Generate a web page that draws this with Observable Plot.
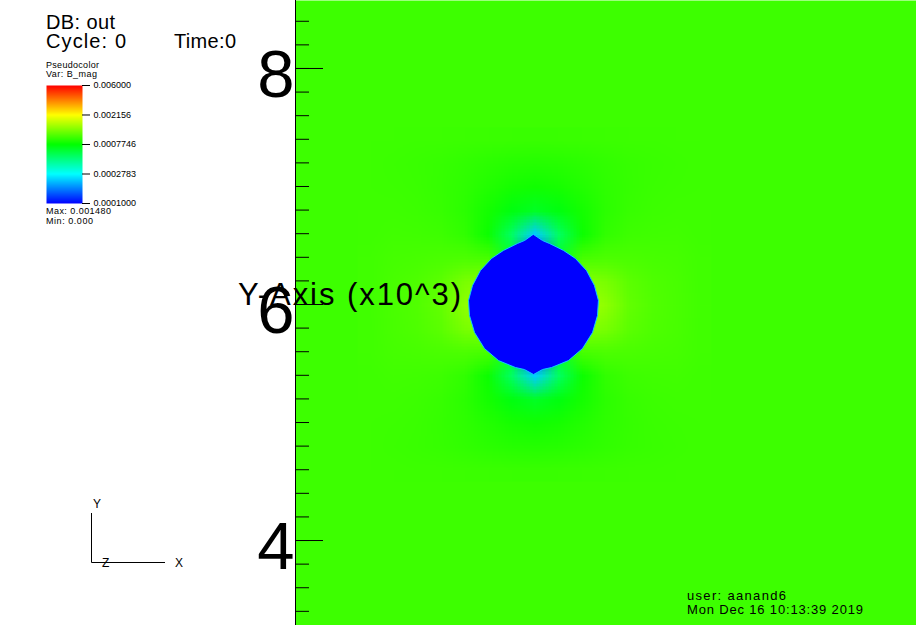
<!DOCTYPE html>
<html><head><meta charset="utf-8">
<script src="https://cdn.jsdelivr.net/npm/d3@7"></script>
<script src="https://cdn.jsdelivr.net/npm/@observablehq/plot@0.6"></script>
<style>
body{margin:0;background:#fff;}
#wrap{position:relative;width:916px;height:625px;overflow:hidden;font-family:"Liberation Sans",Arial,sans-serif;background:#fff;}
#main{position:absolute;left:0;top:0;}
#legend{position:absolute;left:46px;top:77px;}
#overlay{position:absolute;left:0;top:0;pointer-events:none;}
</style></head><body>
<div id="wrap"><div id="main"></div><div id="legend"></div><svg id="overlay" width="916" height="625"></svg></div>
<script>
// ---- data ----
const legendValues = [0.0001, 0.0002783, 0.0007746, 0.002156, 0.006];
const legendLabels = ["0.0001000", "0.0002783", "0.0007746", "0.002156", "0.006000"];
const legendColors = ["#0000ff", "#00ffff", "#00ff00", "#ffff00", "#ff0000"];
const yMajorTicks = [4, 6, 8];
const yMinorTicks = [3.4, 3.6, 3.8, 4.0, 4.2, 4.4, 4.6, 4.8, 5.0, 5.2, 5.4, 5.6, 5.8, 6.0, 6.2, 6.4, 6.6, 6.8, 7.0, 7.2, 7.4, 7.6, 7.8, 8.0, 8.2, 8.4];
const xDomain = [3.975, 9.237];
const yDomain = [3.28, 8.576];
// B_mag in units of 1e-3
const backgroundB = 0.990;
const fieldCenter = [6, 6];
const fieldStep = 0.2;
// one quadrant: rows = distance above centre (0..1.4), cols = distance right of centre (0..1.4)
const fieldQuadrant = [
  [0.990, 1.485, 1.535, 1.371, 1.150, 1.072, 1.038, 1.005],
  [0.050, 1.049, 1.327, 1.253, 1.116, 1.060, 1.033, 1.003],
  [0.050, 0.663, 1.024, 1.052, 1.044, 1.031, 1.020, 1.000],
  [0.228, 0.526, 0.813, 0.944, 0.990, 1.003, 1.004, 0.995],
  [0.668, 0.730, 0.840, 0.922, 0.965, 0.985, 0.993, 0.992],
  [0.826, 0.845, 0.887, 0.930, 0.959, 0.976, 0.985, 0.990],
  [0.895, 0.902, 0.922, 0.942, 0.961, 0.973, 0.982, 0.990],
  [0.970, 0.972, 0.976, 0.980, 0.984, 0.987, 0.989, 0.990]
];
// outline of the excluded (blue) sphere
const diskX = [5.992, 6.068, 6.127, 6.246, 6.347, 6.441, 6.508, 6.542, 6.534, 6.492, 6.407, 6.288, 6.144, 6.068, 5.992, 5.915, 5.839, 5.695, 5.576, 5.492, 5.449, 5.441, 5.475, 5.542, 5.636, 5.737, 5.856, 5.915];
const diskY = [6.593, 6.542, 6.517, 6.458, 6.390, 6.288, 6.161, 6.034, 5.907, 5.763, 5.627, 5.525, 5.466, 5.449, 5.407, 5.449, 5.466, 5.525, 5.627, 5.763, 5.907, 6.034, 6.161, 6.288, 6.390, 6.458, 6.517, 6.542];

// ---- build tables ----
const Q = fieldQuadrant.length;
const N = 2 * Q - 1;
const fieldGrid = [];
for (let i = 0; i < N; i++) for (let j = 0; j < N; j++) fieldGrid.push(fieldQuadrant[Math.abs(Q - 1 - i)][Math.abs(j - (Q - 1))]);
const half = fieldStep * N / 2;
const diskPts = diskX.map((x, i) => ({x, y: diskY[i]}));
const legendRows = legendValues.map((v, i) => ({v, label: legendLabels[i]}));

const W = 916, H = 625, ML = 295;
const pxPerX = (W - ML) / (xDomain[1] - xDomain[0]);
const colorOpts = {type: "log", domain: legendValues, range: legendColors, interpolate: "rgb", clamp: true};
const font = "Liberation Sans, Arial, sans-serif";

const main = Plot.plot({
  width: W, height: H, marginLeft: ML, marginRight: 0, marginTop: 0, marginBottom: 0,
  x: {domain: xDomain, axis: null},
  y: {domain: yDomain, label: null},
  color: colorOpts,
  style: {background: "transparent", fontFamily: font, overflow: "visible", color: "#000"},
  marks: [
    Plot.raster([backgroundB], {width: 1, height: 1, x1: xDomain[0], x2: xDomain[1], y1: yDomain[1], y2: yDomain[0], fill: d => d / 1000}),
    Plot.raster(fieldGrid, {width: N, height: N, x1: fieldCenter[0] - half, x2: fieldCenter[0] + half, y1: fieldCenter[1] + half, y2: fieldCenter[1] - half, fill: d => d / 1000, imageRendering: "auto"}),
    Plot.line(diskPts, {x: "x", y: "y", curve: "linear-closed", fill: "#0000ff", stroke: "#10c8ff", strokeWidth: 1}),
    Plot.ruleX([xDomain[0]], {stroke: "#000", strokeWidth: 1}),
    Plot.ruleY(yMinorTicks, {x1: xDomain[0], x2: xDomain[0] + 14 / pxPerX, stroke: "#000", strokeWidth: 1}),
    Plot.ruleY(yMajorTicks, {x1: xDomain[0], x2: xDomain[0] + 28 / pxPerX, stroke: "#000", strokeWidth: 1}),
    Plot.axisY(yMajorTicks, {tickSize: 0, tickPadding: 1, fontSize: 67, dy: 7, tickFormat: d => String(d), label: null, fill: "#000"})
  ]
});
document.getElementById("main").appendChild(main);

const legend = Plot.plot({
  width: 96, height: 134, marginLeft: 0, marginRight: 60, marginTop: 8, marginBottom: 8,
  x: {domain: [0, 1], axis: null},
  y: {type: "log", domain: [legendValues[0], legendValues[legendValues.length - 1]], axis: null},
  color: colorOpts,
  style: {background: "transparent", fontFamily: font, overflow: "visible", color: "#000"},
  marks: [
    Plot.raster({x1: 0, x2: 1, y1: legendValues[0], y2: legendValues[legendValues.length - 1], fill: (x, y) => y, pixelSize: 1}),
    Plot.ruleY(legendRows, {y: "v", x1: 1, x2: 1 + 8 / 36, stroke: "#000", strokeWidth: 1}),
    Plot.text(legendRows, {y: "v", x: 1, dx: 11, text: "label", textAnchor: "start", fontSize: 9, fill: "#000"})
  ]
});
document.getElementById("legend").appendChild(legend);

// ---- annotations (VisIt window text) ----
const ns = "http://www.w3.org/2000/svg";
const ov = document.getElementById("overlay");
const texts = [
  ["DB: out", 46, 29, 20, 69],
  ["Cycle: 0", 46, 48, 20, 80],
  ["Time:0", 174, 48, 20, 62],
  ["Pseudocolor", 46, 68, 9, 53],
  ["Var: B_mag", 46, 77, 9, 51],
  ["Max: 0.001480", 46, 214, 9, 65],
  ["Min: 0.000", 46, 224, 9, 47],
  ["Y-Axis (x10^3)", 238, 305, 31, 223],
  ["user: aanand6", 687, 600, 13, 99],
  ["Mon Dec 16 10:13:39 2019", 687, 613.5, 13, 176],
  ["Y", 93, 508, 12, null],
  ["Z", 102, 567, 12, null],
  ["X", 175, 567, 12, null]
];
for (const [s, x, y, fs, tl] of texts) {
  const t = document.createElementNS(ns, "text");
  t.setAttribute("x", x); t.setAttribute("y", y);
  t.setAttribute("font-size", fs); t.setAttribute("font-family", font);
  t.setAttribute("fill", "#000");
  if (tl) t.setAttribute("textLength", tl);
  t.textContent = s;
  ov.appendChild(t);
}
const triad = [[91.5, 513, 91.5, 562.5], [91.5, 562.5, 165, 562.5]];
for (const [x1, y1, x2, y2] of triad) {
  const l = document.createElementNS(ns, "line");
  l.setAttribute("x1", x1); l.setAttribute("y1", y1); l.setAttribute("x2", x2); l.setAttribute("y2", y2);
  l.setAttribute("stroke", "#000"); l.setAttribute("stroke-width", 1);
  ov.appendChild(l);
}
</script>
</body></html>
